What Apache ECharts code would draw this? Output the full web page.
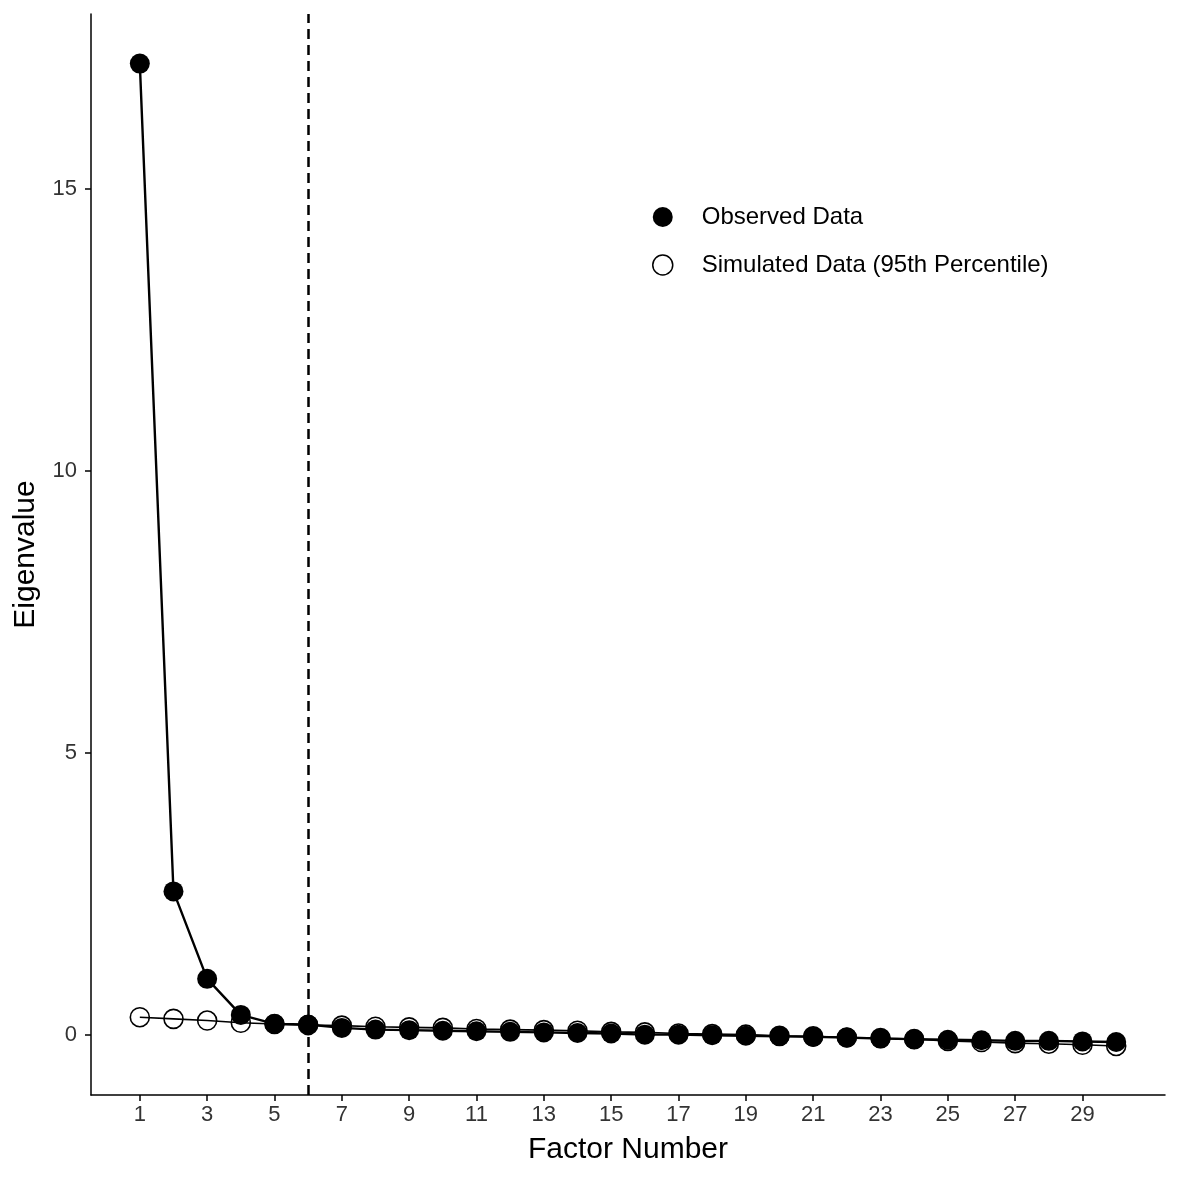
<!doctype html>
<html>
 <head>
  <meta charset="UTF-8">
  <script src="https://cdn.jsdelivr.net/npm/echarts@6/dist/echarts.min.js"></script>
  <title>Parallel analysis scree plot</title>
  <style>
   html, body { margin: 0; padding: 0; background: #fff; }
  </style>
 </head>
 <body>
  <div id="chart" style="width: 1181px; height: 1181px; margin: 0"></div>
 <script type="text/javascript">
    // factor numbers and eigenvalues
    var factors = [1, 2, 3, 4, 5, 6, 7, 8, 9, 10, 11, 12, 13, 14, 15,
                   16, 17, 18, 19, 20, 21, 22, 23, 24, 25, 26, 27, 28, 29, 30];
    var observed = [17.22, 2.54, 0.99, 0.35, 0.19, 0.18, 0.12, 0.09, 0.08, 0.07,
                    0.06, 0.05, 0.04, 0.03, 0.02, 0.00, 0.00, -0.01, -0.02, -0.03,
                    -0.04, -0.05, -0.07, -0.08, -0.09, -0.10, -0.11, -0.11, -0.12, -0.13];
    var simulated = [0.31, 0.28, 0.25, 0.21, 0.19, 0.17, 0.16, 0.14, 0.13, 0.12,
                     0.10, 0.09, 0.08, 0.07, 0.05, 0.04, 0.02, 0.01, 0.00, -0.02,
                     -0.03, -0.05, -0.06, -0.08, -0.11, -0.13, -0.15, -0.16, -0.18, -0.20];
    var xTicks = [1, 3, 5, 7, 9, 11, 13, 15, 17, 19, 21, 23, 25, 27, 29];
    var yTicks = [0, 5, 10, 15];
    var cutoff = 6;

    var font = 'Liberation Sans, Arial, sans-serif';

    function pairs(xs, ys) {
        var out = [];
        for (var i = 0; i < xs.length; i++) out.push([xs[i], ys[i]]);
        return out;
    }

    var myChart = echarts.init(document.getElementById('chart'));
    myChart.setOption({
        animation: false,
        textStyle: { fontFamily: font },
        grid: { left: 91, right: 16, top: 14, bottom: 86 },
        legend: {
            orient: 'vertical',
            left: 647,
            top: 200,
            itemWidth: 20,
            itemHeight: 20,
            itemGap: 24,
            icon: 'circle',
            textStyle: { fontSize: 24, color: '#000', fontFamily: font, padding: [0, 0, 0, 24] },
            data: [
                { name: 'Observed Data', itemStyle: { color: '#000', borderWidth: 0 } },
                { name: 'Simulated Data (95th Percentile)',
                  itemStyle: { color: '#fff', borderColor: '#000', borderWidth: 1.5 } }
            ]
        },
        xAxis: {
            type: 'value',
            min: -0.45,
            max: 31.45,
            name: 'Factor Number',
            nameLocation: 'middle',
            nameGap: 40,
            nameTextStyle: { fontSize: 30, color: '#000', fontFamily: font },
            splitLine: { show: false },
            axisLine: { show: true, onZero: false, lineStyle: { color: '#000', width: 1.5 } },
            axisTick: { show: true, length: 6, customValues: xTicks,
                        lineStyle: { color: '#000', width: 1.5 } },
            axisLabel: { customValues: xTicks, fontSize: 22, color: '#333', margin: 9 }
        },
        yAxis: {
            type: 'value',
            min: -1.07,
            max: 18.1,
            name: 'Eigenvalue',
            nameLocation: 'middle',
            nameGap: 50,
            nameTextStyle: { fontSize: 30, color: '#000', fontFamily: font },
            splitLine: { show: false },
            axisLine: { show: true, onZero: false, lineStyle: { color: '#000', width: 1.5 } },
            axisTick: { show: true, length: 6, customValues: yTicks,
                        lineStyle: { color: '#000', width: 1.5 } },
            axisLabel: { customValues: yTicks, fontSize: 22, color: '#333', margin: 14 }
        },
        series: [
            {
                name: 'Simulated Data (95th Percentile)',
                type: 'line',
                data: pairs(factors, simulated),
                symbol: 'circle',
                symbolSize: 19,
                lineStyle: { color: '#000', width: 1.6 },
                itemStyle: { color: 'rgba(0,0,0,0)', borderColor: '#000', borderWidth: 1.6 },
                z: 2
            },
            {
                name: 'Observed Data',
                type: 'line',
                data: pairs(factors, observed),
                symbol: 'circle',
                symbolSize: 20,
                lineStyle: { color: '#000', width: 2.4 },
                itemStyle: { color: '#000', borderWidth: 0 },
                z: 3,
                markLine: {
                    silent: true,
                    symbol: 'none',
                    label: { show: false },
                    lineStyle: { color: '#000', type: [10, 6], width: 2.5 },
                    data: [{ xAxis: cutoff }]
                }
            }
        ]
    });
 </script>
 </body>
</html>
